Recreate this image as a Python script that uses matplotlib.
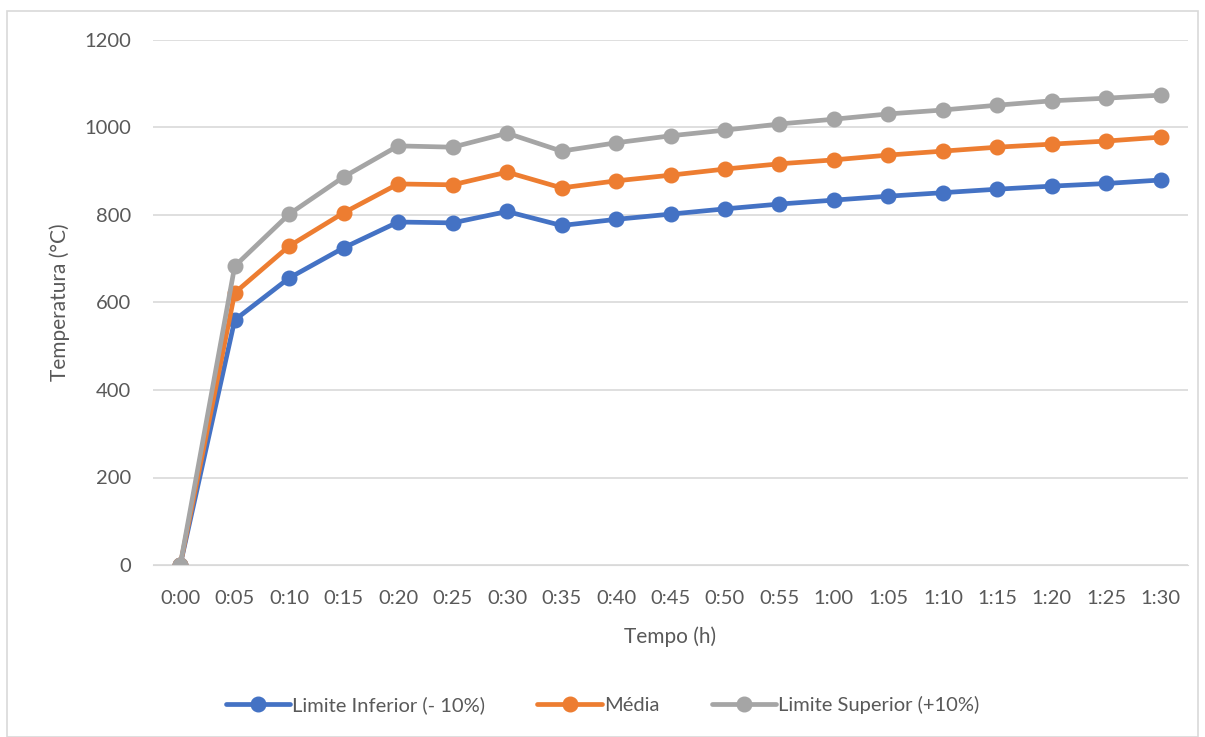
import matplotlib.pyplot as plt
from matplotlib.patches import Rectangle

plt.rcParams["font.family"] = ["Lato", "DejaVu Sans"]

TEXT = "#595959"
GRID = "#d9d9d9"

tempos = ["0:00", "0:05", "0:10", "0:15", "0:20", "0:25", "0:30", "0:35", "0:40", "0:45",
          "0:50", "0:55", "1:00", "1:05", "1:10", "1:15", "1:20", "1:25", "1:30"]
limite_inferior = [0, 560, 656, 725, 784, 782, 808, 776, 790, 802,
                   814, 825, 834, 843, 851, 859, 866, 872, 880]
media = [0, 622, 729, 805, 871, 869, 898, 862, 878, 891,
         905, 917, 926, 937, 946, 955, 962, 969, 978]
limite_superior = [0, 683, 802, 887, 958, 955, 987, 946, 965, 981,
                   994, 1008, 1019, 1031, 1040, 1051, 1061, 1067, 1074]

series = [
    ("Limite Inferior (- 10%)", limite_inferior, "#4472C4"),
    ("Média", media, "#ED7D31"),
    ("Limite Superior (+10%)", limite_superior, "#A5A5A5"),
]

fig = plt.figure(figsize=(12.05, 7.37), dpi=100)
fig.patches.append(Rectangle((7 / 1205, 0), 1 - 14 / 1205, 1 - 11 / 737,
                             transform=fig.transFigure, fill=False,
                             edgecolor=GRID, linewidth=1.2))
ax = fig.add_axes([153 / 1205, 1 - 565 / 737, (1188 - 153) / 1205, (565 - 40) / 737])

x = list(range(len(tempos)))
for label, vals, color in series:
    ax.plot(x, vals, color=color, linewidth=3.4, marker="o", markersize=10.5,
            label=label, solid_capstyle="round")

ax.set_xlim(-0.5, len(tempos) - 0.5)
ax.set_ylim(0, 1200)
ax.set_yticks(range(0, 1201, 200))
ax.set_xticks(x)
ax.set_xticklabels(tempos)
ax.grid(axis="y", color=GRID, linewidth=1.2)
ax.set_axisbelow(True)
for s in ax.spines.values():
    s.set_visible(False)
ax.spines["bottom"].set_visible(True)
ax.spines["bottom"].set_color(GRID)
ax.tick_params(length=0, labelsize=14.5, colors=TEXT)
ax.tick_params(axis="y", pad=16)
ax.tick_params(axis="x", pad=18)
ax.set_xlabel("Tempo (h)", fontsize=15, color=TEXT, labelpad=14)
ax.set_ylabel("Temperatura (°C)", fontsize=15, color=TEXT, labelpad=10)

fig.legend(loc="center", bbox_to_anchor=(0.5, 1 - 705 / 737), ncol=3, frameon=False,
           fontsize=14.5, labelcolor=TEXT, handlelength=3.2, handletextpad=0.1,
           columnspacing=2.6)

fig.savefig("out.png", dpi=100)
